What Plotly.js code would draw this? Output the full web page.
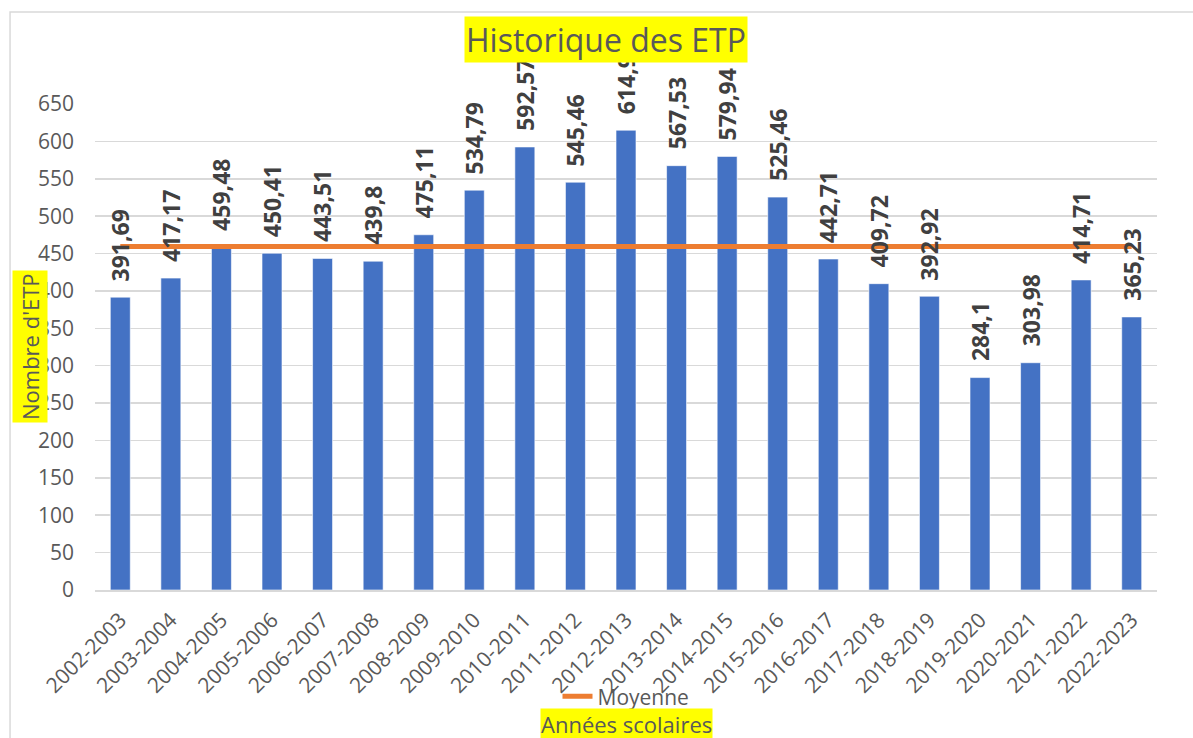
<!DOCTYPE html>
<html>
<head>
<meta charset="utf-8">
<script src="https://cdn.plot.ly/plotly-3.0.1.min.js"></script>
<style>
html,body{margin:0;padding:0;background:#fff;}
#chart{width:1193px;height:738px;}
</style>
</head>
<body>
<div id="chart"></div>
<script>
const annees = ["2002-2003","2003-2004","2004-2005","2005-2006","2006-2007","2007-2008","2008-2009","2009-2010","2010-2011","2011-2012","2012-2013","2013-2014","2014-2015","2015-2016","2016-2017","2017-2018","2018-2019","2019-2020","2020-2021","2021-2022","2022-2023"];
const etp = [391.69,417.17,459.48,450.41,443.51,439.8,475.11,534.79,592.57,545.46,614.96,567.53,579.94,525.46,442.71,409.72,392.92,284.1,303.98,414.71,365.23];
const moyenne = [459.58,459.58,459.58,459.58,459.58,459.58,459.58,459.58,459.58,459.58,459.58,459.58,459.58,459.58,459.58,459.58,459.58,459.58,459.58,459.58,459.58];
const yTicks = [0,50,100,150,200,250,300,350,400,450,500,550,600,650];

const FONT = "Open Sans, Lato, sans-serif";
const fr = v => String(v).replace('.', ',');

const labelAnnotations = annees.map((a, i) => ({
  x: a, y: etp[i], xref: 'x', yref: 'y',
  text: fr(etp[i]), showarrow: false, textangle: -90,
  xanchor: 'center', yanchor: 'bottom', yshift: 14,
  font: {family: FONT, size: 23, color: '#404040', weight: 'bold'}
}));

const traces = [
  {
    type: 'bar', x: annees, y: etp, name: 'ETP', showlegend: false,
    marker: {color: '#4472C4', line: {color: 'rgba(255,255,255,0.6)', width: 1}},
    hoverinfo: 'x+y'
  },
  {
    type: 'scatter', mode: 'lines', x: annees, y: moyenne, name: 'Moyenne',
    line: {color: '#ED7D31', width: 5}, showlegend: true
  }
];

const layout = {
  width: 1193, height: 738,
  margin: {l: 95, r: 36, t: 104, b: 148},
  paper_bgcolor: '#ffffff', plot_bgcolor: '#ffffff',
  font: {family: FONT, color: '#595959', size: 21},
  bargap: 0.605,
  showlegend: true,
  legend: {orientation: 'h', x: 0.5, xanchor: 'center', y: -0.2195, yanchor: 'middle',
           itemwidth: 30, tracegroupgap: 0,
           font: {family: FONT, size: 21, color: '#595959'}, bgcolor: 'rgba(0,0,0,0)'},
  xaxis: {
    type: 'category', tickangle: -45, showgrid: false,
    showline: true, linecolor: '#d9d9d9', linewidth: 1.5,
    ticks: '', ticklabelstandoff: 8,
    tickfont: {family: FONT, size: 21, color: '#595959'},
    fixedrange: true
  },
  yaxis: {
    range: [0, 650], tickvals: yTicks, ticktext: yTicks.map(String),
    showgrid: true, gridcolor: '#d9d9d9', gridwidth: 1.5,
    zeroline: false, showline: false, ticks: '',
    ticklabelstandoff: 20,
    tickfont: {family: FONT, size: 21, color: '#595959'},
    fixedrange: true
  },
  shapes: [{
    type: 'rect', xref: 'paper', yref: 'paper',
    x0: -0.08, x1: 1.1, y0: -0.4, y1: 1.1893,
    line: {color: '#d9d9d9', width: 1.5}, fillcolor: 'rgba(0,0,0,0)', layer: 'below'
  }],
  annotations: labelAnnotations.concat([
    {text: 'Historique des ETP', xref: 'paper', yref: 'paper', x: 0.4816, y: 1.1327,
     xanchor: 'center', yanchor: 'middle', showarrow: false, bgcolor: '#FFFF00', borderpad: 1,
     font: {family: FONT, size: 32, color: '#595959'}},
    {text: "Nombre d'ETP", xref: 'paper', yref: 'paper', x: -0.0612, y: 0.5, textangle: -90,
     xanchor: 'center', yanchor: 'middle', showarrow: false, bgcolor: '#FFFF00', borderpad: 2,
     font: {family: FONT, size: 22, color: '#595959'}},
    {text: 'Années scolaires', xref: 'paper', yref: 'paper', x: 0.5, y: -0.2757,
     xanchor: 'center', yanchor: 'middle', showarrow: false, bgcolor: '#FFFF00', borderpad: 0,
     font: {family: FONT, size: 22, color: '#595959'}}
  ])
};

Plotly.newPlot('chart', traces, layout, {displayModeBar: false, staticPlot: true});
</script>
</body>
</html>
